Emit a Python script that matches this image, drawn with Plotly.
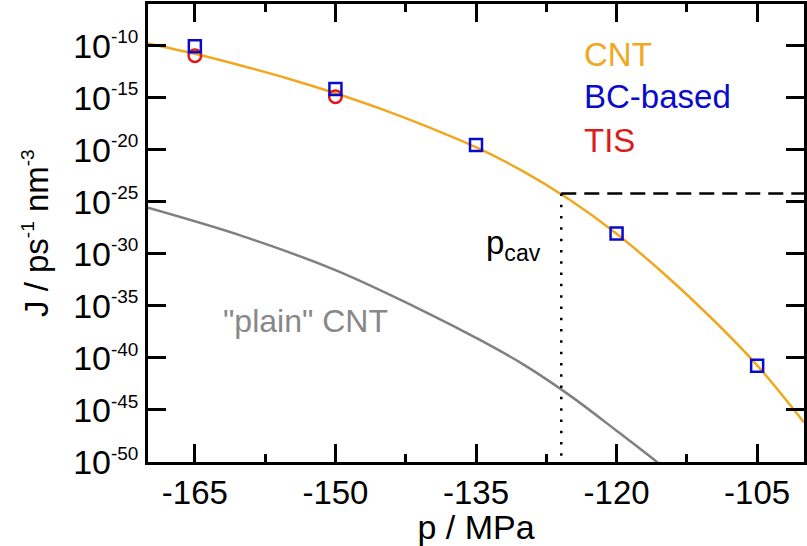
import plotly.graph_objects as go

# ---- data (J given as log10 values) ----
# CNT curve (orange)
cnt_p = [-170, -165, -160, -155, -150, -145, -140, -135, -130, -125, -120, -115, -110, -105, -100]
cnt_logJ = [-9.78, -10.78, -11.93, -13.18, -14.58, -16.13, -17.86, -19.76, -22.06, -24.81,
            -28.07, -31.87, -36.07, -40.71, -46.2]

# "plain" CNT curve (gray)
plain_p = [-170, -160, -150, -140, -135, -130, -125, -120, -115, -114]
plain_logJ = [-25.58, -28.28, -31.57, -35.76, -38.07, -40.6, -43.6, -47.0, -50.5, -51.3]

# BC-based (blue squares)
bc_p = [-165, -150, -135, -120, -105]
bc_logJ = [-10.07, -14.16, -19.55, -28.05, -40.75]

# TIS (red circles)
tis_p = [-165, -150]
tis_logJ = [-10.96, -14.9]

# cavitation pressure guide
p_cav = -125.9
logJ_cav = -24.2

x_ticks = [-165, -150, -135, -120, -105]
x_minor = [-157.5, -142.5, -127.5, -112.5]
y_exps = [-10, -15, -20, -25, -30, -35, -40, -45, -50]

FONT = "Liberation Sans, Arial, Helvetica, sans-serif"
ORANGE = "#F0A820"
BLUE = "#0A0ACC"
RED = "#DD1A1A"
GRAY = "#808080"

p10 = lambda vals: [10.0 ** v for v in vals]

fig = go.Figure()

fig.add_trace(go.Scatter(x=plain_p, y=p10(plain_logJ), mode="lines",
                         line=dict(color=GRAY, width=2.5, shape="spline", smoothing=1.0),
                         showlegend=False))
fig.add_trace(go.Scatter(x=cnt_p, y=p10(cnt_logJ), mode="lines",
                         line=dict(color=ORANGE, width=2.5, shape="spline", smoothing=1.0),
                         showlegend=False))
fig.add_trace(go.Scatter(x=[p_cav, -100], y=p10([logJ_cav, logJ_cav]), mode="lines",
                         line=dict(color="black", width=2.5, dash="15px,8px"),
                         showlegend=False))
fig.add_trace(go.Scatter(x=[p_cav, p_cav], y=p10([logJ_cav, -50]), mode="lines",
                         line=dict(color="black", width=2.5, dash="2.5px,8.8px"),
                         showlegend=False))
fig.add_trace(go.Scatter(x=tis_p, y=p10(tis_logJ), mode="markers",
                         marker=dict(symbol="circle-open", size=12.5, color=RED,
                                     line=dict(width=2.5, color=RED)),
                         showlegend=False, cliponaxis=False))
fig.add_trace(go.Scatter(x=bc_p, y=p10(bc_logJ), mode="markers",
                         marker=dict(symbol="square-open", size=12, color=BLUE,
                                     line=dict(width=2.5, color=BLUE)),
                         showlegend=False, cliponaxis=False))

sup = lambda s: "<sup><span style='font-size:19px'>%s</span></sup>" % s

fig.update_xaxes(
    range=[-170, -100], tickvals=x_ticks, ticktext=[str(v) for v in x_ticks],
    showline=True, linecolor="black", linewidth=2.5, mirror="ticks",
    ticks="inside", ticklen=18, tickwidth=2.5, tickcolor="black",
    minor=dict(tickvals=x_minor, ticks="inside", ticklen=8, tickwidth=2.5, tickcolor="black"),
    showgrid=False, zeroline=False, automargin=False,
    tickfont=dict(family=FONT, size=33, color="black"),
    title=dict(text="p / MPa", font=dict(family=FONT, size=34, color="black"), standoff=2),
)
fig.update_yaxes(
    type="log", range=[-50, -6],
    tickvals=p10(y_exps),
    ticktext=["10" + sup(str(e)) for e in y_exps],
    showline=True, linecolor="black", linewidth=2.5, mirror="ticks",
    ticks="inside", ticklen=18, tickwidth=2.5, tickcolor="black",
    showgrid=False, zeroline=False, automargin=False,
    tickfont=dict(family=FONT, size=34, color="black"),
)

def pap(px, py):
    return (px - 148) / 656.0, (462 - py) / 458.0

annots = []
# y-axis title
ax_, ay_ = pap(36, 233)
annots.append(dict(text="J / ps" + sup("-1") + " nm" + sup("-3"), x=ax_, y=ay_,
                   xref="paper", yref="paper", textangle=-90,
                   xanchor="center", yanchor="middle", showarrow=False,
                   font=dict(family=FONT, size=33, color="black")))
for txt, col, py in [("CNT", ORANGE, 55), ("BC-based", BLUE, 97), ("TIS", RED, 140)]:
    ax_, ay_ = pap(582, py)
    annots.append(dict(text=txt, x=ax_, y=ay_, xref="paper", yref="paper",
                       xanchor="left", yanchor="middle", showarrow=False,
                       font=dict(family=FONT, size=33, color=col)))
ax_, ay_ = pap(305, 321)
annots.append(dict(text='"plain" CNT', x=ax_, y=ay_, xref="paper", yref="paper",
                   xanchor="center", yanchor="middle", showarrow=False,
                   font=dict(family=FONT, size=32, color="#888888")))
ax_, ay_ = pap(513, 245)
annots.append(dict(text="p<sub>cav</sub>", x=ax_, y=ay_, xref="paper", yref="paper",
                   xanchor="center", yanchor="middle", showarrow=False,
                   font=dict(family=FONT, size=33, color="black")))

fig.update_layout(
    width=807, height=546,
    margin=dict(l=148, r=3, t=4, b=84),
    paper_bgcolor="white", plot_bgcolor="white",
    annotations=annots, showlegend=False,
)

fig.write_html("out.html", config={"displayModeBar": False},
               post_script="document.body.style.margin='0';document.body.style.overflow='hidden';")
